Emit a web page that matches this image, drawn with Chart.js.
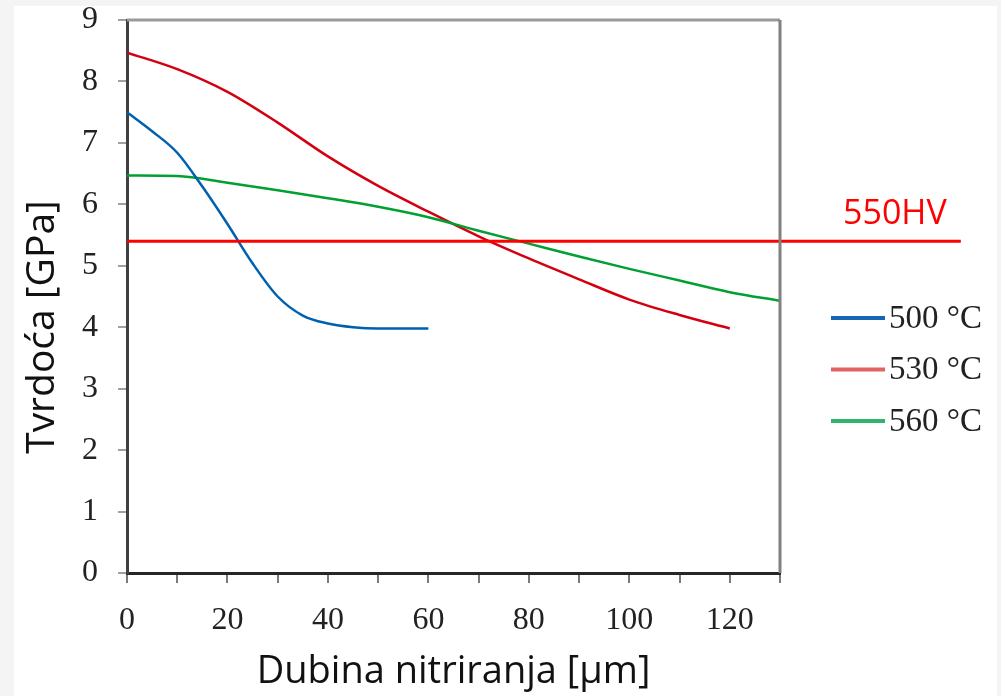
<!DOCTYPE html>
<html>
<head>
<meta charset="utf-8">
<script src="https://cdn.jsdelivr.net/npm/chart.js@4.4.1/dist/chart.umd.min.js"></script>
<style>
  html, body { margin: 0; padding: 0; background: #f4f4f4; }
  canvas { display: block; }
</style>
</head>
<body>
<canvas id="chart" width="1001" height="696"></canvas>
<script>
// depth in µm, hardness in GPa
const depth500 = [0, 5, 10, 15, 20, 25, 30, 35, 40, 45, 50, 55, 60];
const hard500 = [7.5, 7.19, 6.84, 6.29, 5.68, 5.04, 4.5, 4.19, 4.06, 4.0, 3.98, 3.98, 3.98];

const depth530 = [0, 10, 20, 30, 40, 50, 60, 70, 80, 90, 100, 110, 120];
const hard530 = [8.47, 8.2, 7.83, 7.33, 6.78, 6.3, 5.88, 5.48, 5.12, 4.78, 4.45, 4.2, 3.98];

const depth560 = [0, 10, 20, 30, 40, 50, 60, 70, 80, 90, 100, 110, 120, 130];
const hard560 = [6.47, 6.46, 6.35, 6.23, 6.1, 5.96, 5.79, 5.57, 5.36, 5.15, 4.95, 4.76, 4.57, 4.43];

const seriesLabels = ["500 °C", "530 °C", "560 °C"];
const lineColors = ["#0060b0", "#d40012", "#00a032"];
const legendColors = ["#1566b2", "#e06464", "#30b46c"];

const hvValue = 5.4;          // 550HV expressed in GPa
const hvLineEnd = 166;        // red line runs past the plot, to this depth
const hvLabel = "550HV";

const xMin = 0, xMax = 130, xStep = 10, xLabelStep = 20;
const yMin = 0, yMax = 9, yStep = 1;

function toPoints(xs, ys) {
  return xs.map((x, i) => ({ x: x, y: ys[i] }));
}

// grey page edge and white sheet behind the chart
const sheetPlugin = {
  id: "sheet",
  beforeDraw(chart) {
    const ctx = chart.ctx;
    ctx.save();
    ctx.fillStyle = "#f4f4f4";
    ctx.fillRect(0, 0, chart.width, chart.height);
    ctx.fillStyle = "#ffffff";
    ctx.fillRect(14, 6, chart.width - 18, chart.height - 6);
    ctx.restore();
  },
  afterDraw(chart) {
    const ctx = chart.ctx;
    const a = chart.chartArea;
    const y = chart.scales.y;
    ctx.save();
    // top and right frame of the plot
    ctx.lineWidth = 3;
    ctx.strokeStyle = "#9a9a9a";
    ctx.beginPath();
    ctx.moveTo(a.left, a.top);
    ctx.lineTo(a.right, a.top);
    ctx.stroke();
    ctx.strokeStyle = "#808080";
    ctx.beginPath();
    ctx.moveTo(a.right, a.top);
    ctx.lineTo(a.right, a.bottom);
    ctx.stroke();

    // 550HV label over the red line
    ctx.fillStyle = "#ff0000";
    ctx.font = "34px 'Open Sans'";
    ctx.textAlign = "left";
    ctx.textBaseline = "alphabetic";
    ctx.fillText(hvLabel, 843, y.getPixelForValue(hvValue) - 17);

    // y axis title
    ctx.fillStyle = "#111111";
    ctx.font = "39px 'Open Sans'";
    ctx.translate(43, 327);
    ctx.rotate(-Math.PI / 2);
    ctx.textAlign = "center";
    ctx.textBaseline = "middle";
    ctx.fillText("Tvrdoća [GPa]", 0, 0);
    ctx.restore();

    // legend
    ctx.save();
    ctx.font = "33px 'Liberation Serif'";
    ctx.textBaseline = "middle";
    ctx.textAlign = "left";
    for (let i = 0; i < seriesLabels.length; i++) {
      const ly = 318 + i * 51.5;
      ctx.strokeStyle = legendColors[i];
      ctx.lineWidth = 4;
      ctx.beginPath();
      ctx.moveTo(831, ly);
      ctx.lineTo(885, ly);
      ctx.stroke();
      ctx.fillStyle = "#222222";
      ctx.fillText(seriesLabels[i], 889, ly + 1);
    }
    ctx.restore();
  }
};

const datasets = [
  {
    label: hvLabel,
    data: [{ x: 0, y: hvValue }, { x: hvLineEnd, y: hvValue }],
    borderColor: "#ff0000",
    borderWidth: 3,
    pointRadius: 0,
    clip: false,
    order: 0
  }
];
const allX = [depth500, depth530, depth560];
const allY = [hard500, hard530, hard560];
for (let i = 0; i < seriesLabels.length; i++) {
  datasets.push({
    label: seriesLabels[i],
    data: toPoints(allX[i], allY[i]),
    borderColor: lineColors[i],
    borderWidth: 2.5,
    pointRadius: 0,
    cubicInterpolationMode: "monotone",
    order: i === 0 ? 1 : 2 + (2 - i)
  });
}

new Chart(document.getElementById("chart").getContext("2d"), {
  type: "line",
  data: { datasets: datasets },
  options: {
    responsive: false,
    animation: false,
    maintainAspectRatio: false,
    layout: { padding: { left: 0, top: 20, right: 221, bottom: 0 } },
    plugins: {
      legend: { display: false },
      tooltip: { enabled: false }
    },
    scales: {
      x: {
        type: "linear",
        min: xMin,
        max: xMax,
        afterFit: (scale) => {
          scale.height = 123;
          scale.paddingLeft = 0;
          scale.paddingRight = 0;
        },
        border: { color: "#262626", width: 3 },
        grid: { drawOnChartArea: false, tickLength: 10, tickColor: "#7a7a7a", lineWidth: 2 },
        ticks: {
          stepSize: xStep,
          autoSkip: false,
          maxRotation: 0,
          padding: 18,
          color: "#222222",
          font: { family: "'Liberation Serif'", size: 32 },
          callback: (v) => (v % xLabelStep === 0 ? v : "")
        },
        title: {
          display: true,
          text: "Dubina nitriranja [µm]",
          color: "#111111",
          font: { family: "'Open Sans'", size: 38, lineHeight: 1 },
          padding: { top: 0, bottom: 5 }
        }
      },
      y: {
        min: yMin,
        max: yMax,
        afterFit: (scale) => {
          scale.width = 127;
          scale.paddingTop = 0;
          scale.paddingBottom = 0;
        },
        border: { color: "#404040", width: 3 },
        grid: { drawOnChartArea: false, tickLength: 9, tickColor: "#a0a0a0", lineWidth: 2 },
        ticks: {
          stepSize: yStep,
          padding: 20,
          color: "#222222",
          font: { family: "'Liberation Serif'", size: 32 }
        }
      }
    }
  },
  plugins: [sheetPlugin]
});
</script>
</body>
</html>
